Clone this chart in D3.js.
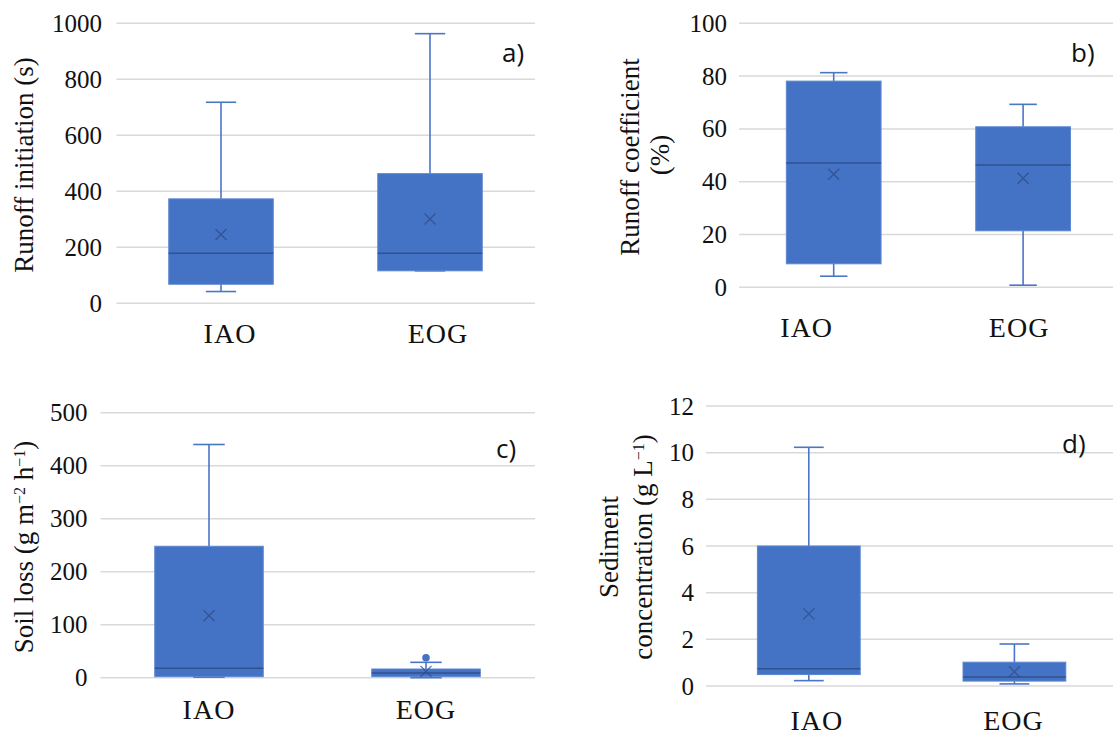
<!DOCTYPE html>
<html><head><meta charset="utf-8">
<script src="https://cdn.jsdelivr.net/npm/d3@7"></script>
<style>body{margin:0;background:#fff}svg{display:block}
text.serif{font-family:"Liberation Serif","Times New Roman",serif;fill:#111}
</style>
</head><body>
<svg id="chart" width="1113" height="736"></svg>
<script>
// ---- data ----
const categories = ["IAO", "EOG"];
const panelLabels = ["a)", "b)", "c)", "d)"];
// stats order: [min, q1, median, q3, max, mean]
const runoffInitiationIAO = [42, 68, 179, 373, 718, 246];
const runoffInitiationEOG = [116, 116, 179, 463, 963, 301];
const runoffCoefficientIAO = [4.2, 8.9, 47.1, 78.1, 81.3, 42.8];
const runoffCoefficientEOG = [0.8, 21.4, 46.3, 60.8, 69.3, 41.3];
const soilLossIAO = [1, 2, 17.7, 248, 440, 117];
const soilLossEOG = [0, 2, 9, 16.4, 29, 12];
const soilLossEOGOutliers = [37.7];
const sedimentIAO = [0.23, 0.49, 0.74, 6.0, 10.23, 3.09];
const sedimentEOG = [0.09, 0.21, 0.39, 1.02, 1.8, 0.61];
const ticksA = [0, 200, 400, 600, 800, 1000];
const ticksB = [0, 20, 40, 60, 80, 100];
const ticksC = [0, 100, 200, 300, 400, 500];
const ticksD = [0, 2, 4, 6, 8, 10, 12];

// ---- layout ----
const panels = [
  {data:[runoffInitiationIAO, runoffInitiationEOG], outliers:[[],[]], ticks:ticksA, label:panelLabels[0],
   left:116.5, step:209, gridRight:535, y0:303.3, y1:23.3, labelX:[9,8], catY:343, tickX:102,
   titleLines:[{x:33, y:165, parts:[["Runoff initiation (s)"]]}], plX:502, plY:61.5},
  {data:[runoffCoefficientIAO, runoffCoefficientEOG], outliers:[[],[]], ticks:ticksB, label:panelLabels[1],
   left:739, step:189.4, gridRight:1113, y0:287.3, y1:23.3, labelX:[-27,-4], catY:337, tickX:727,
   titleLines:[{x:639, y:157, parts:[["Runoff coefficient"]]},{x:669, y:155, parts:[["(%)"]]}], plX:1071, plY:61.5},
  {data:[soilLossIAO, soilLossEOG], outliers:[[], soilLossEOGOutliers], ticks:ticksC, label:panelLabels[2],
   left:100.5, step:217, gridRight:535, y0:677.7, y1:412.7, labelX:[0,0], catY:719, tickX:87.5,
   titleLines:[{x:33, y:547, parts:[["Soil loss (g m"],["\u22122","sup"],[" h"],["\u22121","sup"],[")"]]}], plX:496, plY:458},
  {data:[sedimentIAO, sedimentEOG], outliers:[[],[]], ticks:ticksD, label:panelLabels[3],
   left:706, step:205.6, gridRight:1113, y0:686, y1:406, labelX:[8,-1], catY:729.5, tickX:694,
   titleLines:[{x:618, y:547, parts:[["Sediment"]]},{x:652, y:547, parts:[["concentration (g L"],["\u22121","sup"],[")"]]}], plX:1062, plY:452.5}
];

const svg = d3.select("#chart");
const boxFill = "#4472C4", whisk = "#4A76C6", medCol = "#2F528F", meanCol = "#2F4F8A", gridCol = "#d9d9d9";
const fmt = d3.format("d");

panels.forEach(p => {
  const g = svg.append("g");
  const ticks = p.ticks;
  const y = d3.scaleLinear().domain([ticks[0], ticks[ticks.length-1]]).range([p.y0, p.y1]);
  const x = d3.scalePoint().domain(categories).range([p.left, p.left + 2*p.step]).padding(0.5);
  const bw = p.step * 0.5, capW = bw * 0.29;

  // gridlines
  g.selectAll("line.grid").data(ticks).join("line").attr("class", "grid")
    .attr("x1", p.left).attr("x2", p.gridRight)
    .attr("y1", d => y(d)).attr("y2", d => y(d))
    .attr("stroke", gridCol).attr("stroke-width", 1.5);

  // y tick labels
  g.selectAll("text.tick").data(ticks).join("text").attr("class", "tick serif")
    .attr("x", p.tickX).attr("y", d => y(d)).attr("dy", "0.34em")
    .attr("text-anchor", "end").attr("font-size", 25)
    .text(d => fmt(d));

  // category labels
  g.selectAll("text.cat").data(categories).join("text").attr("class", "cat serif")
    .attr("x", (d,i) => x(d) + p.labelX[i]).attr("y", p.catY)
    .attr("text-anchor", "middle").attr("font-size", 28)
    .style("letter-spacing", "1px")
    .text(d => d);

  // boxes
  categories.forEach((c, i) => {
    const [mn, q1, md, q3, mx, mean] = p.data[i];
    const cx = x(c);
    const bg = g.append("g");
    bg.append("line").attr("x1", cx).attr("x2", cx).attr("y1", y(mx)).attr("y2", y(q3)).attr("stroke", whisk).attr("stroke-width", 1.6);
    bg.append("line").attr("x1", cx - capW/2).attr("x2", cx + capW/2).attr("y1", y(mx)).attr("y2", y(mx)).attr("stroke", whisk).attr("stroke-width", 1.6);
    bg.append("line").attr("x1", cx).attr("x2", cx).attr("y1", y(q1)).attr("y2", y(mn)).attr("stroke", whisk).attr("stroke-width", 1.6);
    bg.append("line").attr("x1", cx - capW/2).attr("x2", cx + capW/2).attr("y1", y(mn)).attr("y2", y(mn)).attr("stroke", whisk).attr("stroke-width", 1.6);
    bg.append("rect").attr("x", cx - bw/2).attr("y", y(q3)).attr("width", bw).attr("height", Math.max(1, y(q1) - y(q3)))
      .attr("fill", boxFill).attr("stroke", "#5B86D0").attr("stroke-width", 1);
    bg.append("line").attr("x1", cx - bw/2).attr("x2", cx + bw/2).attr("y1", y(md)).attr("y2", y(md))
      .attr("stroke", medCol).attr("stroke-width", 1.5);
    const s = 5.5, my = y(mean);
    bg.append("path").attr("d", `M${cx-s},${my-s}L${cx+s},${my+s}M${cx-s},${my+s}L${cx+s},${my-s}`)
      .attr("stroke", meanCol).attr("stroke-width", 1.3).attr("opacity", 0.8);
    bg.selectAll("circle").data(p.outliers[i]).join("circle")
      .attr("cx", cx).attr("cy", d => y(d)).attr("r", 3.8).attr("fill", boxFill);
  });

  // y-axis titles (rotated)
  p.titleLines.forEach(t => {
    const tx = g.append("text").attr("class", "serif").attr("transform", `translate(${t.x},${t.y}) rotate(-90)`)
      .attr("text-anchor", "middle").attr("font-size", 27);
    t.parts.forEach(pt => {
      const ts = tx.append("tspan").text(pt[0]);
      if (pt[1] === "sup") ts.attr("font-size", 16).attr("baseline-shift", "super");
    });
  });

  // panel label
  g.append("text").attr("x", p.plX).attr("y", p.plY)
    .attr("font-family", "'Open Sans', sans-serif").attr("font-size", 26).attr("fill", "#111")
    .text(p.label);
});
</script>
</body></html>
